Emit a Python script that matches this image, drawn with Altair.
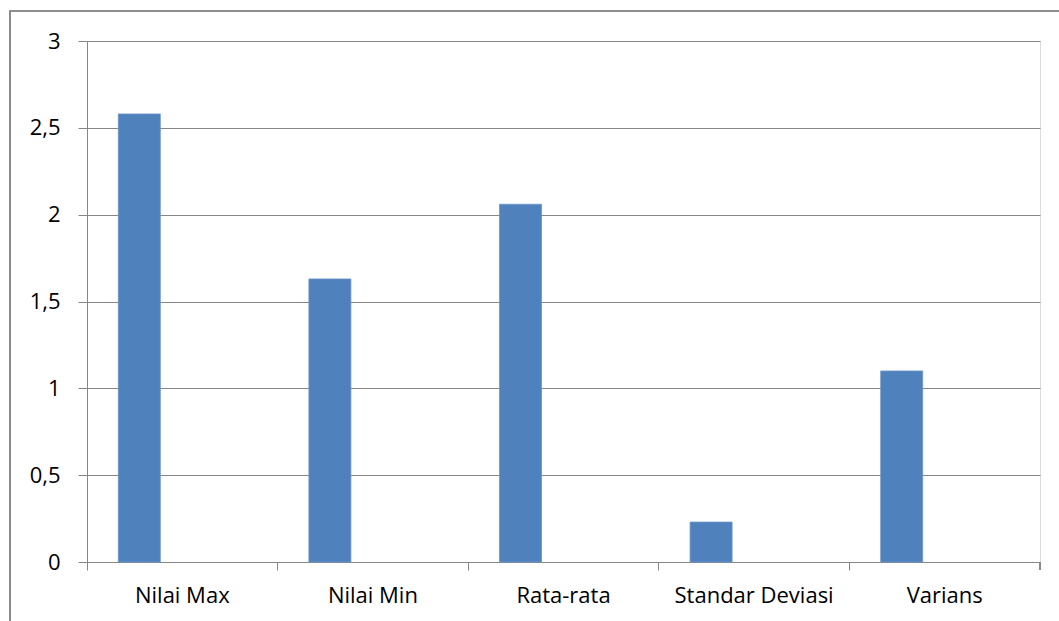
import altair as alt
import pandas as pd

categories = ["Nilai Max", "Nilai Min", "Rata-rata", "Standar Deviasi", "Varians"]
values = [2.58, 1.63, 2.06, 0.23, 1.10]

df = pd.DataFrame({"Kategori": categories, "Nilai": values})

W, H = 953, 521
FONT = "Open Sans"
GRAY = "#868686"

base = alt.Chart(df)

bars = base.mark_bar(size=42, xOffset=-43, color="#4F81BD", stroke="#6C94C8", strokeWidth=0.8).encode(
    x=alt.X("Kategori:N", sort=categories, title=None,
            scale=alt.Scale(paddingInner=0, paddingOuter=0),
            axis=alt.Axis(bandPosition=0, labelAngle=0,
                          tickSize=8, tickColor=GRAY, domainColor=GRAY,
                          labelFont=FONT, labelFontSize=22, labelColor="#000000",
                          labelPadding=15, grid=False)),
    y=alt.Y("Nilai:Q", title=None,
            scale=alt.Scale(domain=[0, 3], nice=False),
            axis=alt.Axis(values=[0, 0.5, 1, 1.5, 2, 2.5, 3], format="~g",
                          labelExpr="replace(datum.label, '.', ',')",
                          tickSize=9, tickColor=GRAY, domainColor=GRAY,
                          gridColor=GRAY, gridWidth=1,
                          labelFont=FONT, labelFontSize=22, labelColor="#000000",
                          labelPadding=18)),
)

end_tick = base.mark_rule(color=GRAY).encode(
    x=alt.value(W), y=alt.value(H), y2=alt.value(H + 8)
)

border = base.mark_rect(fill=None, stroke="#8A8A8A", strokeWidth=1.2, clip=False).encode(
    x=alt.value(-77), x2=alt.value(1000), y=alt.value(-30), y2=alt.value(620)
)

chart = alt.layer(border, bars, end_tick).properties(
    width=W, height=H,
    autosize=alt.AutoSizeParams(type="none"),
    padding={"left": 87, "top": 41, "right": 19, "bottom": 59},
).configure_view(stroke=None).configure(background="white")

chart.save("out.html", embed_options={"renderer": "svg", "actions": False})
